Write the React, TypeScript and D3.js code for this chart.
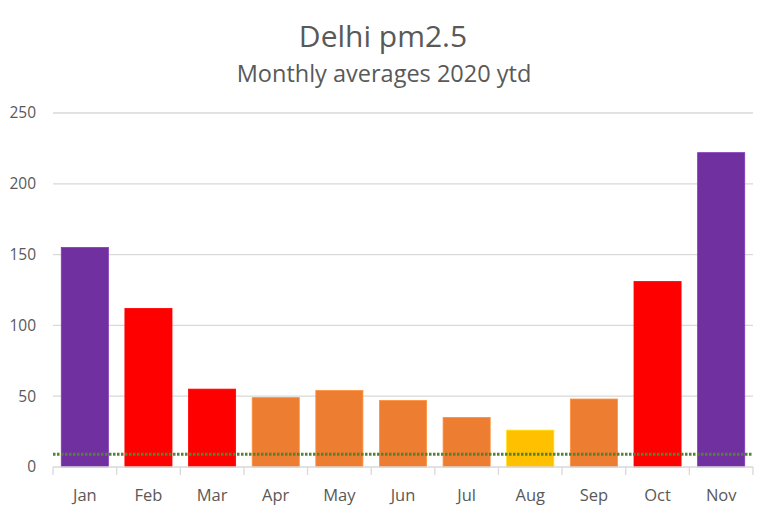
import React from "react";
import * as d3 from "d3";

const months = ["Jan", "Feb", "Mar", "Apr", "May", "Jun", "Jul", "Aug", "Sep", "Oct", "Nov"];
const pm25 = [155, 112, 55, 49, 54, 47, 35, 26, 48, 131, 222];
const barColors = ["#7030A0", "#FF0000", "#FF0000", "#ED7D31", "#ED7D31", "#ED7D31", "#ED7D31", "#FFC000", "#ED7D31", "#FF0000", "#7030A0"];
const yTicks = [0, 50, 100, 150, 200, 250];
const guideline = 9;

const W = 768;
const H = 510;
const margin = { top: 113, right: 15, bottom: 43, left: 53 };
const font = "'Open Sans', 'Liberation Sans', sans-serif";
const textColor = "#595959";

export default function App() {
  const x = d3
    .scaleBand()
    .domain(months)
    .range([margin.left, W - margin.right])
    .paddingInner(0.26)
    .paddingOuter(0.13);

  const y = d3.scaleLinear().domain([0, 250]).range([H - margin.bottom, margin.top]);
  const step = x.step();
  const bandStart = margin.left;

  return (
    <svg width={W} height={H} style={{ position: "absolute", left: 0, top: 0, background: "#fff" }}>
      <text x={W / 2 - 1} y={47} textAnchor="middle" fontFamily={font} fontSize={30} fill={textColor}>
        Delhi pm2.5
      </text>
      <text x={W / 2} y={82} textAnchor="middle" fontFamily={font} fontSize={23.5} fill={textColor}>
        Monthly averages 2020 ytd
      </text>

      {/* gridlines and y labels */}
      {yTicks.map((t) => (
        <g key={t}>
          {t > 0 && (
            <line x1={margin.left} x2={W - margin.right} y1={y(t)} y2={y(t)} stroke="#d9d9d9" strokeWidth={1.3} />
          )}
          <text x={36} y={y(t)} dy="0.35em" textAnchor="end" fontFamily={font} fontSize={15.5} fill={textColor}>
            {t}
          </text>
        </g>
      ))}

      {/* bars */}
      {months.map((m, i) => (
        <rect
          key={m}
          x={x(m)}
          y={y(pm25[i])}
          width={x.bandwidth()}
          height={y(0) - y(pm25[i])}
          fill={barColors[i]}
          stroke={d3.color(barColors[i])!.brighter(0.4).formatHex()}
          strokeWidth={0.8}
        />
      ))}

      {/* x axis */}
      <line x1={margin.left} x2={W - margin.right} y1={y(0)} y2={y(0)} stroke="#d9d9d9" strokeWidth={1.3} />
      {d3.range(months.length + 1).map((i) => (
        <line
          key={i}
          x1={bandStart + i * step}
          x2={bandStart + i * step}
          y1={y(0)}
          y2={y(0) + 8}
          stroke="#d9d9d9"
          strokeWidth={1.3}
        />
      ))}
      {months.map((m) => (
        <text
          key={m}
          x={x(m)! + x.bandwidth() / 2}
          y={y(0) + 34}
          textAnchor="middle"
          fontFamily={font}
          fontSize={16.5}
          fill={textColor}
        >
          {m}
        </text>
      ))}

      {/* guideline */}
      <line
        x1={margin.left}
        x2={W - margin.right}
        y1={y(guideline)}
        y2={y(guideline)}
        stroke="#548235"
        strokeWidth={2.8}
        strokeDasharray="2.5 1.5"
      />
    </svg>
  );
}
